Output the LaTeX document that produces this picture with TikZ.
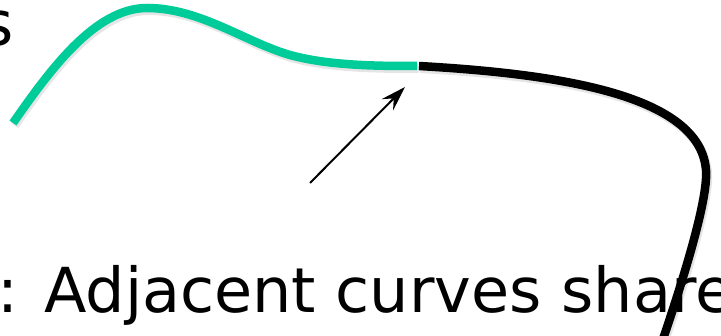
\documentclass[tikz,border=0pt]{standalone}
\usepackage{fontspec}
\setmainfont{DejaVu Sans}
\usetikzlibrary{arrows.meta}
\definecolor{curvegreen}{RGB}{0,204,153}
\begin{document}
\begin{tikzpicture}[x=1pt,y=-1pt,
  curveline/.style={line width=8.5pt,line cap=butt,line join=round},
  shadowline/.style={line width=9pt,draw=black,opacity=0.10,line cap=butt},
  pointer/.style={line width=2pt,-{Stealth[length=25pt,width=16pt,inset=9pt]}},
  label/.style={font=\fontsize{62}{74}\selectfont,inner sep=0pt,anchor=base west}]
\useasboundingbox (0,0) rectangle (721,336);
\clip (0,0) rectangle (721,336);
\def\greenpath{(13,123) .. controls (50,70) and (95,8) .. (147,8) .. controls (200,8) and (245,42) .. (290,55) .. controls (330,66) and (380,66) .. (417,66)}
\def\blackpath{(419,66) .. controls (560,74) and (700,95) .. (706,170) .. controls (708,195) and (690,260) .. (661,345)}
% shadows
\begin{scope}[shift={(1.5,2.5)}]
\draw[shadowline] \greenpath;
\draw[shadowline] \blackpath;
\end{scope}
% text
\node[label] (topword) at (-19,46) {s};
\node[label] (caption) at (-3,313) {: Adjacent curves share};
% curves
\draw[curveline,draw=curvegreen] \greenpath;
\draw[curveline,draw=black] \blackpath;
% arrow
\coordinate (tail) at (310,183);
\coordinate (joint) at (405,87);
\draw[pointer] (tail) -- (joint);
\end{tikzpicture}
\end{document}
